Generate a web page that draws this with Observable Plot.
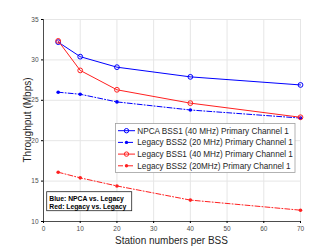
<!DOCTYPE html>
<html>
<head>
<meta charset="utf-8">
<script src="https://cdn.jsdelivr.net/npm/d3@7"></script>
<script src="https://cdn.jsdelivr.net/npm/@observablehq/plot@0.6"></script>
<style>
  html, body { margin: 0; padding: 0; background: #fff; }
  #chart { width: 332px; height: 249px; }
</style>
</head>
<body>
<div id="chart"></div>
<script>
const stations = [4, 10, 20, 40, 70];
const npcaBss1 = [32.2, 30.4, 29.1, 27.9, 26.9];
const legacyBss2_20 = [26.0, 25.75, 24.8, 23.8, 22.8];
const legacyBss1_40 = [32.35, 28.7, 26.3, 24.65, 22.9];
const legacyBss2_20b = [16.1, 15.4, 14.4, 12.65, 11.4];
const seriesNames = [
  "NPCA BSS1 (40 MHz) Primary Channel 1",
  "Legacy BSS2 (20 MHz) Primary Channel 1",
  "Legacy BSS1 (40 MHz) Primary Channel 1",
  "Legacy BSS2 (20MHz) Primary Channel 1"
];
const xTicks = [0, 10, 20, 30, 40, 50, 60, 70];
const yTicks = [10, 15, 20, 25, 30, 35];
const annotation = ["Blue: NPCA vs. Legacy", "Red: Legacy vs. Legacy"];

const seriesValues = [npcaBss1, legacyBss2_20, legacyBss1_40, legacyBss2_20b];
const styles = [
  {color: "#0000ff", dash: null, marker: "open"},
  {color: "#0000ff", dash: "5,2,1,2", marker: "dot"},
  {color: "#ff2020", dash: null, marker: "open"},
  {color: "#ff2020", dash: "5,2,1,2", marker: "dot"}
];
const data = [];
seriesValues.forEach((vals, i) => stations.forEach((s, j) => data.push({series: i, x: s, y: vals[j]})));

const marks = [
  Plot.gridX(xTicks, {stroke: "#e6e6e6", strokeOpacity: 1}),
  Plot.gridY(yTicks, {stroke: "#e6e6e6", strokeOpacity: 1}),
  Plot.ruleX([0], {stroke: "#262626", strokeWidth: 0.8}),
  Plot.ruleY([10], {stroke: "#262626", strokeWidth: 0.8}),
  Plot.axisX(xTicks, {tickSize: 2, tickPadding: 3, fontSize: 6.5, fill: "#4d4d4d", label: null}),
  Plot.axisY(yTicks, {tickSize: 2, tickPadding: 3, fontSize: 6.5, fill: "#4d4d4d", label: null})
];
styles.forEach((st, i) => {
  const d = data.filter(r => r.series === i);
  marks.push(Plot.line(d, {x: "x", y: "y", stroke: st.color, strokeWidth: 1, strokeDasharray: st.dash}));
  if (st.marker === "open") {
    marks.push(Plot.dot(d, {x: "x", y: "y", r: 2.4, stroke: st.color, strokeWidth: 1, fill: "none"}));
  } else {
    marks.push(Plot.dot(d, {x: "x", y: "y", r: 1.8, fill: st.color, stroke: "none"}));
  }
});

const chart = Plot.plot({
  width: 332, height: 249,
  marginLeft: 43, marginRight: 32, marginTop: 19, marginBottom: 28,
  style: {fontFamily: "'Liberation Sans', Arial, sans-serif", background: "#fff"},
  x: {domain: [0, 70]},
  y: {domain: [10, 35]},
  marks
});
document.getElementById("chart").appendChild(chart);

const svg = d3.select(chart);
const font = "'Liberation Sans', Arial, sans-serif";
// axis titles
svg.append("text").attr("x", 171.5).attr("y", 243.5).attr("text-anchor", "middle")
  .attr("font-family", font).attr("font-size", 10).attr("fill", "#262626").text("Station numbers per BSS");
svg.append("text").attr("transform", "translate(30.5,120) rotate(-90)").attr("text-anchor", "middle")
  .attr("font-family", font).attr("font-size", 10).attr("fill", "#262626").text("Throughput (Mbps)");

// legend
const lg = svg.append("g").attr("text-anchor", "start");
lg.append("rect").attr("x", 115.5).attr("y", 123.5).attr("width", 179.5).attr("height", 49)
  .attr("fill", "#fff").attr("stroke", "#a0a0a0").attr("stroke-width", 0.8);
seriesNames.forEach((name, i) => {
  const yy = 130.7 + i * 11.7;
  const st = styles[i];
  lg.append("line").attr("x1", 118).attr("x2", 135).attr("y1", yy).attr("y2", yy)
    .attr("stroke", st.color).attr("stroke-width", 1).attr("stroke-dasharray", st.dash);
  if (st.marker === "open") {
    lg.append("circle").attr("cx", 126.5).attr("cy", yy).attr("r", 2.2).attr("fill", "none").attr("stroke", st.color);
  } else {
    lg.append("circle").attr("cx", 126.5).attr("cy", yy).attr("r", 1.7).attr("fill", st.color);
  }
  lg.append("text").attr("x", 137.3).attr("y", yy).attr("dy", "0.35em").attr("text-anchor", "start")
    .attr("font-family", font).attr("font-size", 8.2).attr("fill", "#262626").text(name);
});

// annotation box
const an = svg.append("g").attr("text-anchor", "start");
an.append("rect").attr("x", 46.7).attr("y", 191.7).attr("width", 85).attr("height", 19)
  .attr("fill", "#fff").attr("stroke", "#262626").attr("stroke-width", 0.8);
annotation.forEach((t, i) => {
  an.append("text").attr("x", 49.3).attr("y", 198.3 + i * 8.4).attr("dy", "0.35em").attr("text-anchor", "start")
    .attr("font-family", font).attr("font-size", 6.8).attr("font-weight", "bold").attr("fill", "#000").text(t);
});
</script>
</body>
</html>
